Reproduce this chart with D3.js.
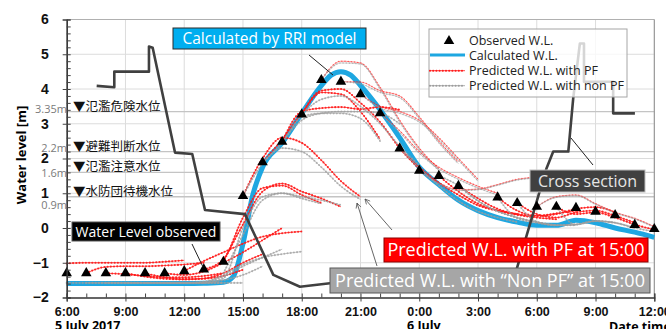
<!DOCTYPE html>
<html>
<head>
<meta charset="utf-8">
<script src="https://cdn.jsdelivr.net/npm/d3@7"></script>
<style>
  body { margin: 0; background: #fff; }
  svg { display: block; font-family: "Open Sans", "Noto Sans", sans-serif; }
</style>
</head>
<body>
<svg id="chart" width="666" height="329"></svg>
<script>
// time is given in hours after 6:00, 5 July 2017
const obsLevel = [-1.3, -1.3, -1.3, -1.3, -1.3, -1.3, -1.24, -1.19, -0.97, 0.92, 1.89, 2.48, 3.27, 4.26, 4.21, 3.85,
  3.30, 2.29, 1.65, 1.50, 1.21, null, 0.88, 0.72, 0.61, 0.61, 0.58, 0.47, 0.37, 0.09, -0.03];

const calcHours = [0, 2, 4, 6, 7, 8, 8.5, 9, 9.5, 10, 11, 12, 13, 13.5, 14, 14.5, 15, 16, 17, 18, 19, 20, 21, 22, 23, 24, 25, 26, 27, 28, 29, 30];
const calcLevel = [-1.6, -1.6, -1.6, -1.6, -1.59, -1.56, -1.4, -0.45, 0.95, 1.75, 2.45, 3.3, 4.1, 4.4, 4.5, 4.4, 4.1, 3.4, 2.6, 1.75, 1.25, 0.8, 0.5, 0.3, 0.17, 0.08, 0.08, 0.22, 0.15, 0.0, -0.12, -0.27];

// hourly forecasts, each starting at runStarts[i]
const runStarts = [0, 1, 2, 3, 4, 5, 6, 7, 8, 9, 10, 11, 12, 13, 14, 15, 16, 17, 18, 19, 20, 22, 23, 24, 25];
const pfRuns = [
  [-1.02, -1.0, -1.0, -1.0, -1.0, -0.97, -0.93],
  [-1.3, -1.12, -1.1, -1.1, -1.08, -1.05, -1.0],
  [-1.3, -1.33, -1.38, -1.42, -1.42, -1.38, -1.3],
  [-1.3, -1.4, -1.46, -1.48, -1.46, -1.38, -1.2],
  [-1.3, -1.42, -1.47, -1.45, -1.3, -1.0, -0.75],
  [-1.3, -1.35, -1.25, -1.0, -0.7, -0.35, 0.0],
  [-1.24, -0.95, -0.7, -0.45, -0.25, -0.15, -0.1],
  [-1.19, -0.9, 0.3, 1.15, 1.22, 0.95, 0.72],
  [-0.97, 0.1, 1.05, 1.28, 1.05, 0.85, 0.61],
  [0.92, 2.0, 2.6, 2.45, 1.95, 1.35, 0.9],
  [1.89, 2.55, 3.3, 3.9, 3.85, 3.35, 2.55],
  [2.48, 3.35, 3.45, 3.48, 3.42, 3.48, 3.4],
  [3.27, 3.95, 4.0, 3.6, 3.05, 2.3, 1.7],
  [4.26, 4.8, 4.75, 4.05, 3.1, 2.3, 1.7],
  [4.21, 4.2, 3.95, 3.8, 3.2, 2.5, 1.9],
  [3.85, 3.5, 3.35, 3.1, 2.6, 2.0, 1.4],
  [3.3, 2.8, 2.2, 1.75, 1.45, 1.2, 1.0],
  [2.29, 1.75, 1.3, 0.95, 0.65, 0.5, 0.4],
  [1.65, 1.3, 1.1, 1.12, 1.25, 1.4, 1.46],
  [1.5, 1.05, 0.7, 0.5, 0.38, 0.3, 0.25],
  [1.21, 0.85, 0.55, 0.4, 0.35, 0.42, 0.5],
  [0.88, 0.5, 0.35, 0.4, 0.55, 0.6, 0.45],
  [0.72, 0.4, 0.3, 0.45, 0.5, 0.35, 0.15],
  [0.61, 0.9, 0.95, 0.7, 0.45, 0.28, 0.04],
  [0.61, 0.4, 0.45, 0.3, 0.1, -0.05]
];
const npRuns = [
  [-1.58, -1.58, -1.58, -1.58, -1.58, -1.58, -1.58],
  [-1.58, -1.58, -1.58, -1.58, -1.58, -1.58, -1.58],
  [-1.58, -1.58, -1.58, -1.58, -1.58, -1.58, -1.58],
  [-1.58, -1.58, -1.58, -1.58, -1.58, -1.58, -1.58],
  [-1.58, -1.58, -1.58, -1.58, -1.5, -1.35, -1.1],
  [-1.58, -1.58, -1.55, -1.4, -1.1, -0.85, -0.61],
  [-1.58, -1.55, -1.35, -1.05, -0.85, -0.75, -0.68],
  [-1.58, -1.45, 0.0, 0.9, 1.0, 0.85, 0.7],
  [-1.3, -0.2, 0.8, 1.0, 0.9, 0.8, 0.66],
  [0.92, 1.85, 2.3, 2.2, 1.75, 1.2, 0.82],
  [1.89, 2.45, 3.2, 3.3, 3.3, 3.15, 2.5],
  [2.48, 3.1, 3.3, 3.35, 3.35, 3.3, 3.0],
  [3.27, 3.7, 3.8, 3.5, 3.0, 2.35, 1.8],
  [4.26, 4.75, 4.72, 4.0, 3.05, 2.25, 1.65],
  [4.21, 4.15, 3.9, 3.75, 3.15, 2.45, 1.85],
  [3.85, 3.45, 3.3, 3.05, 2.55, 1.95, 1.35],
  [3.3, 2.75, 2.15, 1.7, 1.4, 1.15, 0.95],
  [2.29, 1.72, 1.22, 0.78, 0.48, 0.3, 0.17],
  [1.65, 1.28, 1.08, 1.1, 1.23, 1.38, 1.44],
  [1.5, 1.22, 0.78, 0.48, 0.3, 0.17, 0.08],
  [1.21, 0.78, 0.48, 0.3, 0.17, 0.08, 0.08],
  [0.88, 0.28, 0.15, 0.08, 0.1, 0.2, 0.15],
  [0.72, 0.18, 0.08, 0.1, 0.2, 0.15, 0.0],
  [0.61, 0.88, 0.93, 0.68, 0.43, 0.26, 0.02],
  [0.61, 0.1, 0.2, 0.15, 0.0, -0.1]
];
// runs where both forecasts overlap and show as thin mixed lines
const fadedStarts = [13, 14, 15, 16, 18, 24];

// river cross section drawn in the same axes
const crossHours = [1.53, 2.43, 2.43, 4.2, 4.2, 4.39, 5.53, 6.41, 7.06, 9.1, 10.55, 11.91, 13.44, 22.78, 24.5, 24.84, 25.61, 25.86, 26.2, 26.41, 26.41, 27.9, 27.9, 29.01];
const crossLevel = [4.09, 4.05, 4.5, 4.5, 5.22, 5.19, 2.17, 2.13, 0.52, 0.4, -1.35, -1.69, -1.59, -1.55, 1.72, 2.2, 2.2, 3.73, 5.31, 5.31, 4.21, 4.21, 3.3, 3.3];

const warnLevels = [3.35, 2.2, 1.6, 0.9];
const warnNames = ['▼氾濫危険水位', '▼避難判断水位', '▼氾濫注意水位', '▼水防団待機水位'];
const warnTags = ['3.35m', '2.2m', '1.6m', '0.9m'];
const warnTagShift = [-3, -4, 1, 8];

const hourTicks = d3.range(0, 31, 3);
const levelTicks = d3.range(-2, 7, 1);

const svg = d3.select('#chart');
const x = d3.scaleLinear().domain([0, 30]).range([66.7, 654.3]);
const y = d3.scaleLinear().domain([-2, 6]).range([297.5, 19.5]);

const smooth = d3.line().defined(d => d[1] !== null).x(d => x(d[0])).y(d => y(d[1])).curve(d3.curveMonotoneX);
const straight = d3.line().x(d => x(d[0])).y(d => y(d[1]));

// grid
const grid = svg.append('g');
grid.selectAll('.vg').data(hourTicks.slice(1)).enter().append('line')
  .attr('x1', d => x(d)).attr('x2', d => x(d)).attr('y1', y(6)).attr('y2', y(-2))
  .attr('stroke', '#dcdcdc').attr('stroke-width', 1);
grid.selectAll('.hg').data(levelTicks.slice(1)).enter().append('line')
  .attr('x1', x(0)).attr('x2', x(30)).attr('y1', d => y(d)).attr('y2', d => y(d))
  .attr('stroke', d => d === 6 ? '#b0b0b0' : '#dcdcdc').attr('stroke-width', 1);
grid.selectAll('.wl').data(warnLevels).enter().append('line')
  .attr('x1', x(0)).attr('x2', x(30)).attr('y1', d => y(d)).attr('y2', d => y(d))
  .attr('stroke', '#c4c4c4').attr('stroke-width', 1.3);
grid.append('line').attr('x1', x(30)).attr('x2', x(30)).attr('y1', y(6)).attr('y2', y(-2))
  .attr('stroke', '#8c8c8c').attr('stroke-width', 1);

// calculated water level
svg.append('path').attr('d', smooth(calcHours.map((h, i) => [h, calcLevel[i]])))
  .attr('fill', 'none').attr('stroke', '#1ea7e1').attr('stroke-width', 5).attr('stroke-linejoin', 'round');

function dotted(g, pts, color, opacity, dot) {
  g.append('path').attr('d', smooth(pts)).attr('fill', 'none')
    .attr('stroke', color).attr('stroke-width', 0.8).attr('opacity', opacity);
  g.append('path').attr('d', smooth(pts)).attr('fill', 'none')
    .attr('stroke', color).attr('stroke-width', dot).attr('stroke-linecap', 'round')
    .attr('stroke-dasharray', '0,3.2').attr('opacity', opacity);
}
const runPoints = (vals, i) => vals.map((v, k) => [runStarts[i] + k, v]);
const isFaded = i => fadedStarts.includes(runStarts[i]);

const pfG = svg.append('g');
pfRuns.forEach((vals, i) => dotted(pfG, runPoints(vals, i), '#ff1a1a', isFaded(i) ? 0.55 : 0.9, isFaded(i) ? 1.6 : 2.1));
const npG = svg.append('g');
npRuns.forEach((vals, i) => dotted(npG, runPoints(vals, i), '#9c9c9c', isFaded(i) ? 0.6 : 0.7, isFaded(i) ? 1.6 : 2.1));

// cross section
svg.append('path').attr('d', straight(crossHours.map((h, i) => [h, crossLevel[i]])))
  .attr('fill', 'none').attr('stroke', '#404040').attr('stroke-width', 2.6).attr('stroke-linejoin', 'round');

// observed
svg.append('g').selectAll('path')
  .data(obsLevel.map((v, i) => [i, v]).filter(d => d[1] !== null))
  .enter().append('path')
  .attr('d', d3.symbol(d3.symbolTriangle, 48))
  .attr('transform', d => `translate(${x(d[0])},${y(d[1])})`)
  .attr('fill', '#000');

// axes
const yAxis = svg.append('g').attr('transform', `translate(${x(0)},0)`)
  .call(d3.axisLeft(y).tickValues(levelTicks).tickSize(4).tickPadding(14).tickFormat(d3.format('d')));
svg.append('g').attr('transform', `translate(${x(0)},0)`)
  .call(d3.axisLeft(y).tickValues(d3.range(-2, 6.01, 0.2)).tickSize(-4).tickFormat(''));
const xAxis = svg.append('g').attr('transform', `translate(0,${y(-2)})`)
  .call(d3.axisBottom(x).tickValues(hourTicks).tickSize(4).tickPadding(6)
    .tickFormat(d => `${(6 + d) % 24}:00`));
svg.append('g').attr('transform', `translate(0,${y(-2)})`)
  .call(d3.axisBottom(x).tickValues(d3.range(0, 31, 1)).tickSize(-4).tickFormat(''));
svg.selectAll('.domain').attr('stroke', '#333').attr('stroke-width', 1.2);
svg.selectAll('.tick line').attr('stroke', '#444');
yAxis.selectAll('text').attr('font-size', 14).attr('font-weight', 'bold').attr('fill', '#111');
xAxis.selectAll('text').attr('font-size', 12.5).attr('font-weight', 'bold').attr('fill', '#111');

svg.append('text').attr('transform', 'translate(26,155) rotate(-90)')
  .attr('text-anchor', 'middle').attr('font-size', 13).attr('font-weight', 'bold').text('Water level [m]');
svg.append('text').attr('x', 55).attr('y', 330).attr('font-size', 12.5).attr('font-weight', 'bold').text('5 July 2017');
svg.append('text').attr('x', 407).attr('y', 330).attr('font-size', 12.5).attr('font-weight', 'bold').text('6 July');
svg.append('text').attr('x', 609).attr('y', 331).attr('font-size', 12.5).attr('font-weight', 'bold').text('Date time');

// warning levels
svg.append('g').selectAll('text').data(warnLevels).enter().append('text')
  .attr('x', 73).attr('y', d => y(d) - 1)
  .attr('font-family', '"Noto Sans CJK JP", sans-serif').attr('font-size', 12.5).attr('fill', '#111')
  .text((d, i) => warnNames[i]);
svg.append('g').selectAll('text').data(warnLevels).enter().append('text')
  .attr('x', 67).attr('y', (d, i) => y(d) + warnTagShift[i] + 4)
  .attr('text-anchor', 'end').attr('font-size', 11).attr('fill', '#7a7a7a')
  .text((d, i) => warnTags[i]);

// legend
const lg = svg.append('g');
lg.append('rect').attr('x', 429).attr('y', 29).attr('width', 198).attr('height', 68)
  .attr('fill', '#fff').attr('fill-opacity', 0.78).attr('stroke', '#a6a6a6');
lg.append('path').attr('d', d3.symbol(d3.symbolTriangle, 48)).attr('transform', 'translate(449,41)');
lg.append('line').attr('x1', 430).attr('x2', 465).attr('y1', 55).attr('y2', 55)
  .attr('stroke', '#1ea7e1').attr('stroke-width', 3);
dotted(lg, [[x.invert(430), y.invert(70.7)], [x.invert(465), y.invert(70.7)]], '#ff1a1a', 1, 2.1);
dotted(lg, [[x.invert(430), y.invert(85.7)], [x.invert(465), y.invert(85.7)]], '#9c9c9c', 1, 2.1);
lg.selectAll('text').data(['Observed W.L.', 'Calculated W.L.', 'Predicted W.L. with PF', 'Predicted W.L. with non PF'])
  .enter().append('text').attr('x', 469).attr('y', (d, i) => [40, 55, 70.7, 85.7][i] + 4.5)
  .attr('font-size', 12.5).attr('fill', '#222').text(d => d);

// callouts
function callout(bx, by, bw, bh, fill, stroke, txt, size, color) {
  svg.append('rect').attr('x', bx).attr('y', by).attr('width', bw).attr('height', bh)
    .attr('fill', fill).attr('stroke', stroke).attr('stroke-width', 1);
  svg.append('text').attr('x', bx + bw / 2).attr('y', by + bh / 2 + size * 0.36)
    .attr('text-anchor', 'middle').attr('font-size', size).attr('fill', color).text(txt);
}
const defs = svg.append('defs');
defs.append('marker').attr('id', 'arrow').attr('viewBox', '0 0 10 10').attr('refX', 9).attr('refY', 5)
  .attr('markerWidth', 7).attr('markerHeight', 7).attr('orient', 'auto')
  .append('path').attr('d', 'M1,1 L9,5 L1,9').attr('fill', 'none').attr('stroke', '#555').attr('stroke-width', 1.2);

svg.append('line').attr('x1', 309).attr('y1', 55).attr('x2', 333).attr('y2', 75).attr('stroke', '#222').attr('stroke-width', 1);
svg.append('line').attr('x1', 192).attr('y1', 244).attr('x2', 203).attr('y2', 267).attr('stroke', '#222').attr('stroke-width', 1);
svg.append('line').attr('x1', 571).attr('y1', 138).attr('x2', 593).attr('y2', 165).attr('stroke', '#222').attr('stroke-width', 1);
svg.append('line').attr('x1', 392).attr('y1', 230).attr('x2', 365).attr('y2', 199)
  .attr('stroke', '#555').attr('stroke-width', 0.9).attr('marker-end', 'url(#arrow)');
svg.append('line').attr('x1', 377).attr('y1', 266).attr('x2', 357).attr('y2', 203)
  .attr('stroke', '#555').attr('stroke-width', 0.9).attr('marker-end', 'url(#arrow)');

callout(173, 28, 193, 21, '#00aeef', '#2b2b2b', 'Calculated by RRI model', 15.5, '#fff');
callout(72, 222, 148, 19, '#000', '#555', 'Water Level observed', 14, '#fff');
callout(530, 170, 115, 22, '#404040', '#bdbdbd', 'Cross section', 16, '#e6e6e6');
callout(384, 238, 264, 24, '#ff0000', '#8b0000', 'Predicted W.L. with PF at 15:00', 18, '#fff');
callout(330, 268, 320, 25, '#a6a6a6', '#595959', 'Predicted W.L. with \u201cNon PF\u201d at 15:00', 18, '#fff');
</script>
</body>
</html>
